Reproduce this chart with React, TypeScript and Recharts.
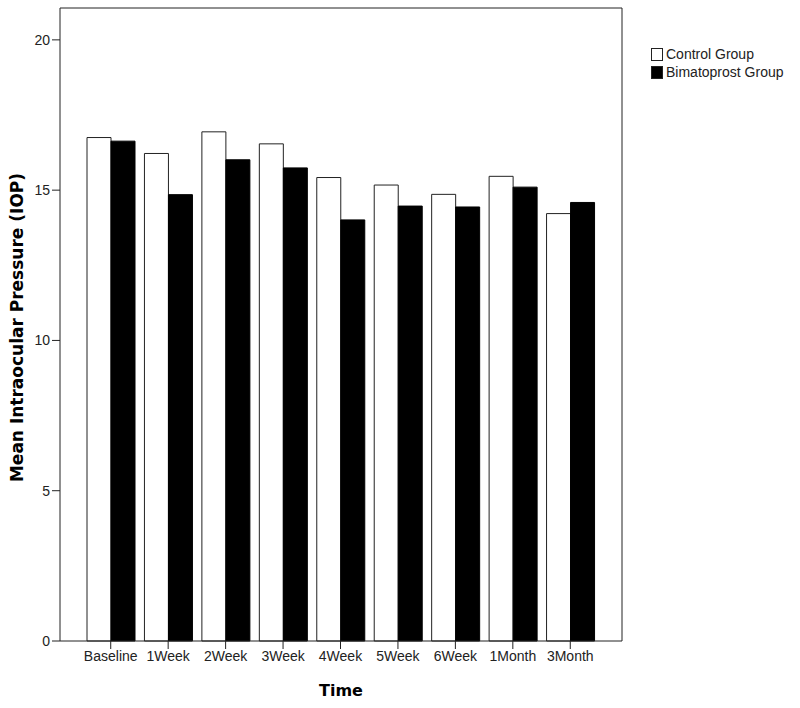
import React from 'react';
import { BarChart, Bar, XAxis, YAxis } from 'recharts';

const timePoints = ['Baseline', '1Week', '2Week', '3Week', '4Week', '5Week', '6Week', '1Month', '3Month'];
const controlGroup = [16.75, 16.22, 16.94, 16.54, 15.42, 15.17, 14.86, 15.46, 14.22];
const bimatoprostGroup = [16.63, 14.85, 16.01, 15.74, 14.01, 14.47, 14.44, 15.1, 14.59];
const yTicks = [0, 5, 10, 15, 20];
const seriesNames = ['Control Group', 'Bimatoprost Group'];

const data = timePoints.map((t, i) => ({
  time: t,
  control: controlGroup[i],
  bimatoprost: bimatoprostGroup[i],
}));

const titleStyle = { fontFamily: 'DejaVu Sans, Verdana, sans-serif', fontSize: 16, fontWeight: 'bold' as const, fill: '#000' };

// rotated y title, placed from the axis viewBox
const YTitle = (props: any) => {
  const vb = props.viewBox || { x: 0, y: 0, width: 0, height: 0 };
  const cx = 17;
  const cy = vb.y + vb.height / 2 + 3;
  return (
    <text
      x={cx}
      y={cy}
      transform={`rotate(-90, ${cx}, ${cy})`}
      textAnchor="middle"
      dominantBaseline="central"
      style={{ ...titleStyle, fontSize: 17 }}
    >
      Mean Intraocular Pressure (IOP)
    </text>
  );
};

export default function App() {
  const tickStyle = { fontFamily: 'Liberation Sans, Arial, sans-serif', fontSize: 14, fill: '#222' };
  return (
    <div style={{ position: 'absolute', left: 0, top: 0, width: 800, height: 708, background: '#fff' }}>
      <BarChart
        width={800}
        height={708}
        data={data}
        margin={{ top: 7, right: 177, bottom: 0, left: 8 }}
        barGap={0}
        barSize={24}
      >
        <XAxis
          dataKey="time"
          padding={{ left: 22, right: 23 }}
          height={67}
          tick={tickStyle}
          tickLine={{ stroke: '#222' }}
          axisLine={{ stroke: '#222' }}
          tickSize={8}
          interval={0}
          label={{ value: 'Time', position: 'insideBottom', offset: 12, style: titleStyle }}
        />
        <XAxis xAxisId="top" dataKey="time" orientation="top" height={1} tick={false} tickLine={false} axisLine={{ stroke: '#222' }} />
        <YAxis
          domain={[0, 21.06]}
          ticks={yTicks}
          width={52}
          tick={tickStyle}
          tickLine={{ stroke: '#222' }}
          axisLine={{ stroke: '#222' }}
          tickSize={8}
          label={<YTitle />}
        />
        <YAxis yAxisId="right" orientation="right" width={1} domain={[0, 21.06]} tick={false} tickLine={false} axisLine={{ stroke: '#222' }} />
        <Bar dataKey="control" name={seriesNames[0]} fill="#fff" stroke="#222" strokeWidth={1} isAnimationActive={false} />
        <Bar dataKey="bimatoprost" name={seriesNames[1]} fill="#000" stroke="#000" strokeWidth={1} isAnimationActive={false} />
      </BarChart>
      <div
        style={{
          position: 'absolute',
          left: 651,
          top: 45,
          fontFamily: 'Liberation Sans, Arial, sans-serif',
          fontSize: 14,
          color: '#222',
        }}
      >
        {seriesNames.map((name, i) => (
          <div key={name} style={{ display: 'flex', alignItems: 'center', height: 18 }}>
            <span
              style={{
                display: 'inline-block',
                width: 12,
                height: 13,
                boxSizing: 'border-box',
                border: '1px solid #222',
                background: i === 0 ? '#fff' : '#000',
                marginRight: 3,
              }}
            />
            <span>{name}</span>
          </div>
        ))}
      </div>
    </div>
  );
}
